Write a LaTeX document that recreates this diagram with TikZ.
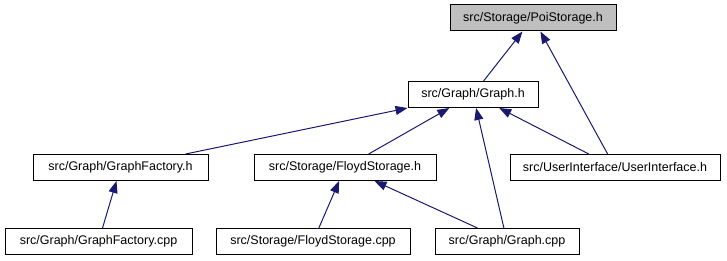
\documentclass[tikz,border=0pt]{standalone}
\usepackage{fontspec}
\setmainfont{Liberation Sans}
\usetikzlibrary{arrows.meta}

\definecolor{edgeblue}{HTML}{191970}
\definecolor{rootgray}{HTML}{BFBFBF}

\tikzset{
    file/.style={draw=black, line width=1pt, rectangle, minimum height=26pt,
        inner sep=0pt, font=\fontsize{12.5}{14}\selectfont},
    root/.style={file, fill=rootgray},
}

\begin{document}
\begin{tikzpicture}[x=1pt, y=-1pt, >={Triangle[length=12pt, width=9pt]}]
    \useasboundingbox (0,0) rectangle (727,261);

    % Header at the top
    \node[root, minimum width=166pt] (poi) at (533,18) {src/Storage/PoiStorage.h};
    \node[file, minimum width=130pt] (graphh) at (473,94.5) {src/Graph/Graph.h};

    % Second row
    \node[file, minimum width=175pt] (gfh) at (120.5,167.5) {src/Graph/GraphFactory.h};
    \node[file, minimum width=182pt] (fsh) at (345,167.5) {src/Storage/FloydStorage.h};
    \node[file, minimum width=210pt] (uih) at (615,167.5) {src/UserInterface/UserInterface.h};

    % Sources
    \node[file, minimum width=187pt] (gfcpp) at (98.5,241.5) {src/Graph/GraphFactory.cpp};
    \node[file, minimum width=194pt] (fscpp) at (313,241.5) {src/Storage/FloydStorage.cpp};
    \node[file, minimum width=144pt] (gcpp) at (507,241.5) {src/Graph/Graph.cpp};

    % Include edges
    \path[->, draw=edgeblue, fill=edgeblue, line width=1pt]
        (graphh) edge (poi)
        (uih) edge (poi)
        (gfh) edge (graphh)
        (fsh) edge (graphh)
        (gcpp) edge (graphh)
        (uih) edge (graphh)
        (gfcpp) edge (gfh)
        (fscpp) edge (fsh)
        (gcpp) edge (fsh);

\end{tikzpicture}
\end{document}
